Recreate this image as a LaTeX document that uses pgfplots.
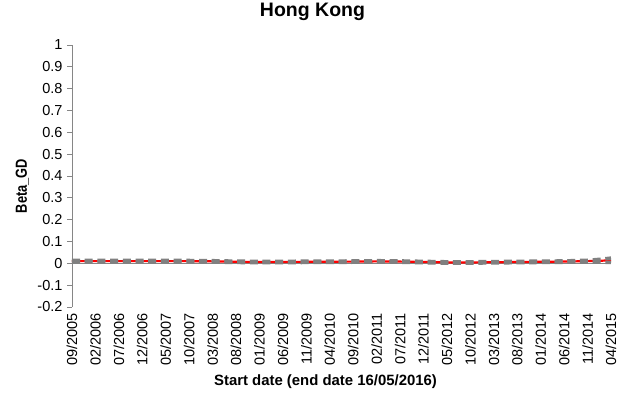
\documentclass[border=0pt]{standalone}
\usepackage{fontspec}
\setmainfont{Liberation Sans}
\newfontfamily\narrowfont[FakeStretch=0.8]{Liberation Sans}
\usepackage{pgfplots}
\pgfplotsset{compat=1.18}
\usepackage{pgfplotstable}
\usetikzlibrary{calc}

\definecolor{bandgray}{RGB}{128,128,128}
\definecolor{axisgray}{RGB}{134,134,134}

% Monthly index from 09/2005 (0) to 04/2015 (115); estimate and bounds
\pgfplotstableread{
idx  beta   upper  lower
0    0.010  0.013  0.007
5    0.010  0.013  0.007
10   0.010  0.013  0.007
15   0.010  0.013  0.007
20   0.010  0.013  0.007
25   0.010  0.013  0.007
30   0.009  0.012  0.006
35   0.007  0.010  0.004
40   0.006  0.009  0.003
45   0.006  0.009  0.003
50   0.007  0.010  0.004
55   0.007  0.010  0.004
60   0.008  0.011  0.005
65   0.009  0.012  0.006
70   0.008  0.011  0.005
75   0.006  0.009  0.003
80   0.004  0.007  0.001
85   0.004  0.007  0.001
90   0.005  0.008  0.002
95   0.006  0.009  0.003
100  0.007  0.010  0.004
105  0.008  0.011  0.005
110  0.010  0.014  0.006
113  0.012  0.019  0.005
115  0.014  0.024  0.004
}\betadata

\begin{document}
\begin{tikzpicture}
\useasboundingbox (-72pt,-91pt) rectangle (557pt,307pt);
\begin{axis}[
  at={(0,0)}, anchor=south west,
  scale only axis,
  width=539pt, height=262pt,
  xmin=0, xmax=115,
  ymin=-0.2, ymax=1,
  axis x line*=bottom,
  axis y line*=left,
  x axis line style={draw=none},
  y axis line style={draw=axisgray, line width=0.8pt, -},
  ytick={-0.2,-0.1,0,0.1,0.2,0.3,0.4,0.5,0.6,0.7,0.8,0.9,1},
  yticklabels={-0.2,-0.1,0,0.1,0.2,0.3,0.4,0.5,0.6,0.7,0.8,0.9,1},
  y tick label style={font=\fontsize{14.5}{14.5}\selectfont, xshift=-1pt},
  major y tick style={draw=axisgray, line width=0.8pt},
  tick align=outside,
  major tick length=5pt,
  xtick={0,5,...,115},
  xticklabels={09/2005,02/2006,07/2006,12/2006,05/2007,10/2007,03/2008,08/2008,01/2009,06/2009,11/2009,04/2010,09/2010,02/2011,07/2011,12/2011,05/2012,10/2012,03/2013,08/2013,01/2014,06/2014,11/2014,04/2015},
  x tick label style={font=\fontsize{14.5}{14.5}\selectfont, rotate=90, anchor=east, inner sep=1pt},
  major x tick style={draw=none},
  extra y ticks={0},
  extra y tick labels={},
  extra y tick style={grid=major, major grid style={draw=axisgray, line width=0.8pt}, major tick length=0pt},
  title={Hong Kong},
  title style={font=\bfseries\fontsize{19.5}{19.5}\selectfont, anchor=base, at={(0.5,1)}, yshift=22pt, xshift=-29pt},
  xlabel={Start date (end date 16/05/2016)},
  xlabel style={font=\bfseries\fontsize{14.9}{14.9}\selectfont, anchor=base, at={(0.5,0)}, yshift=-79pt, xshift=-16pt},
  ylabel={Beta\_GD},
  ylabel style={font=\narrowfont\bfseries\fontsize{16}{16}\selectfont, anchor=base,
    at={($(rel axis cs:0,0.5)+(-45pt,-10pt)$)}},
  clip=false,
]
\addplot[red, line width=2.2pt] table[x=idx, y=beta] {\betadata};
\addplot[bandgray, line width=3.5pt, dash pattern=on 8pt off 4.7pt] table[x=idx, y=upper] {\betadata};
\addplot[bandgray, line width=3.5pt, dash pattern=on 8pt off 4.7pt] table[x=idx, y=lower] {\betadata};
\end{axis}
\end{tikzpicture}
\end{document}
